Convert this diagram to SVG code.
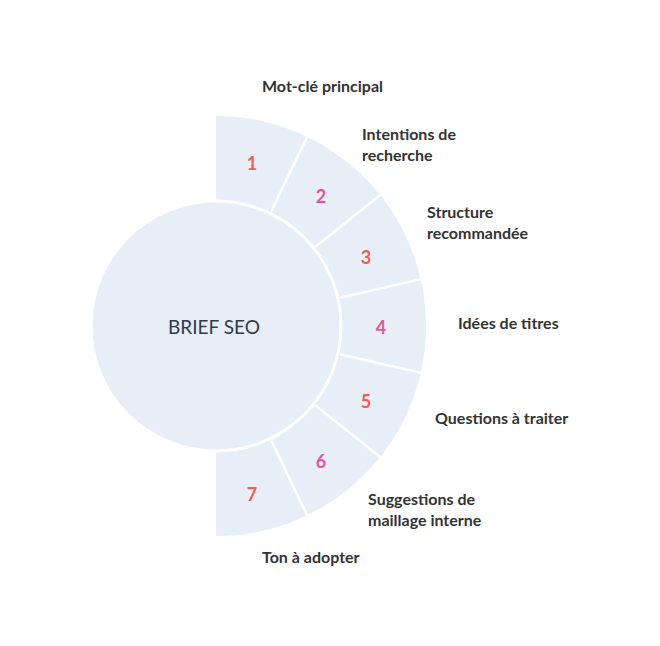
<svg xmlns="http://www.w3.org/2000/svg" width="660" height="646" viewBox="0 0 660 646">
<style>
.seg{fill:#e8eef7}
.sep{stroke:#fff;stroke-width:2.5}
.num{font-family:Lato,"Liberation Sans",sans-serif;font-weight:bold;font-size:18px;text-anchor:middle}
.r{fill:#ee5f4f}.p{fill:#e4559a}
.lbl{font-family:Lato,"Liberation Sans",sans-serif;font-weight:bold;font-size:16px;fill:#333}
</style>
<rect width="660" height="646" fill="#fff"/>
<g id="ring"><path class="seg" d="M216,116 A210,210 0 0 1 216,536 Z"/></g>
<g id="connectors">
<line class="sep" x1="271.1" y1="211.6" x2="307.1" y2="136.8"/>
<line class="sep" x1="315.3" y1="246.8" x2="380.2" y2="195.1"/>
<line class="sep" x1="339.8" y1="297.7" x2="420.7" y2="279.3"/>
<line class="sep" x1="339.8" y1="354.3" x2="420.7" y2="372.7"/>
<line class="sep" x1="315.3" y1="405.2" x2="380.2" y2="456.9"/>
<line class="sep" x1="271.1" y1="440.4" x2="307.1" y2="515.2"/>
</g>
<g id="center"><circle cx="216" cy="326" r="125" fill="#e8eef7" stroke="#fff" stroke-width="3"/>
<text x="214" y="334" font-family="Lato,'Liberation Sans',sans-serif" font-size="19" fill="#2f3a4a" text-anchor="middle">BRIEF SEO</text></g>
<g id="n1"><text class="num r" x="252" y="170">1</text><text class="lbl" x="262" y="92">Mot-clé principal</text></g>
<g id="n2"><text class="num p" x="321" y="203">2</text><text class="lbl" x="362" y="140">Intentions de</text><text class="lbl" x="362" y="161">recherche</text></g>
<g id="n3"><text class="num r" x="366" y="264">3</text><text class="lbl" x="427" y="218">Structure</text><text class="lbl" x="427" y="239">recommandée</text></g>
<g id="n4"><text class="num p" x="381" y="334">4</text><text class="lbl" x="458" y="329">Idées de titres</text></g>
<g id="n5"><text class="num r" x="366" y="408">5</text><text class="lbl" x="435" y="424">Questions à traiter</text></g>
<g id="n6"><text class="num p" x="321" y="468">6</text><text class="lbl" x="368" y="505">Suggestions de</text><text class="lbl" x="368" y="526">maillage interne</text></g>
<g id="n7"><text class="num r" x="252" y="501">7</text><text class="lbl" x="262" y="563">Ton à adopter</text></g>
</svg>
